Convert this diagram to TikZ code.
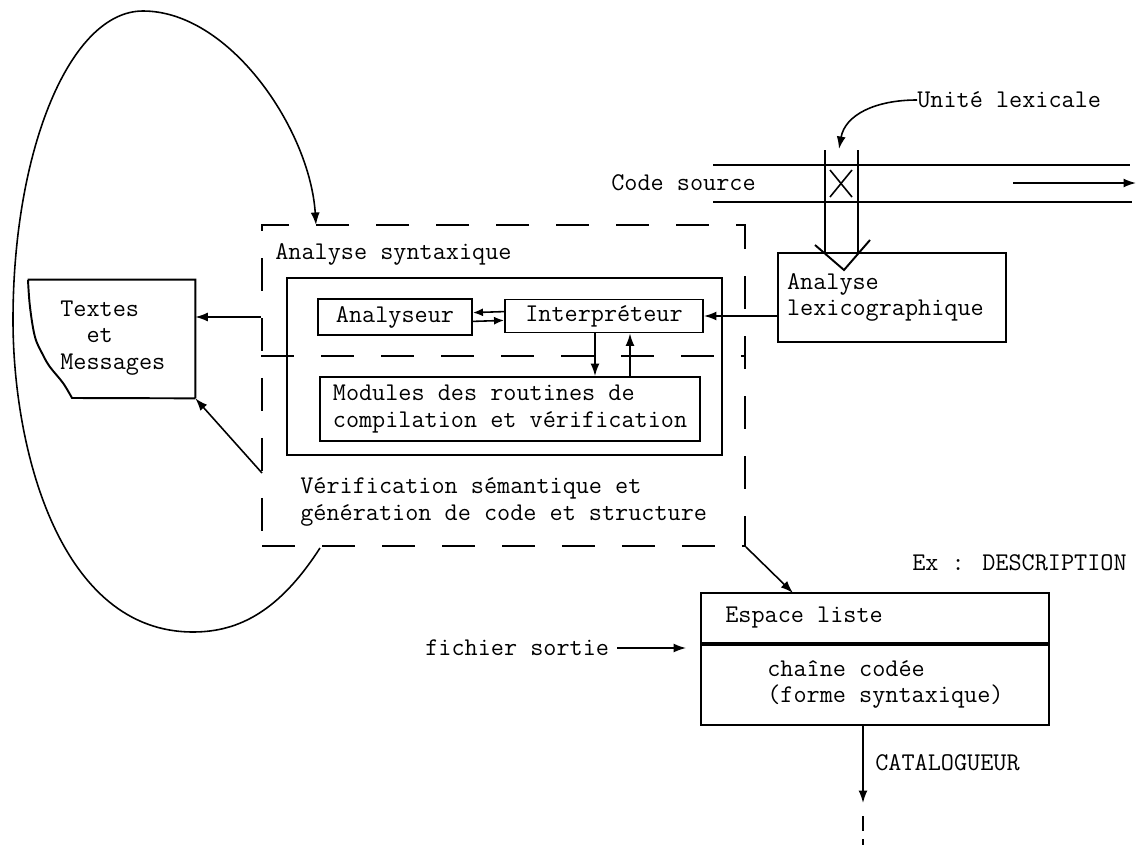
\documentclass[tikz,border=0pt]{standalone}
\usepackage{fontspec}
\usepackage{tikz}
\usetikzlibrary{arrows.meta,positioning,calc}

\tikzset{
  texte/.style={font=\ttfamily\fontsize{14.5}{15}\selectfont, inner sep=0pt},
  boite/.style={draw, line width=1.1pt, inner sep=0pt},
  pointille/.style={draw, line width=1.1pt, dash pattern=on 0.66cm off 0.54cm},
  fleche/.style={-{Latex[length=2.5mm,width=1.8mm]}, line width=0.9pt},
}

\begin{document}
\begin{tikzpicture}[x=0.02cm,y=-0.02cm]
\useasboundingbox (0,0) rectangle (1137,845);

% analyse syntaxique et verification semantique
\node[pointille, minimum width=9.66cm, minimum height=6.42cm] (semantique) at (503.5,385.5) {};
\draw[pointille] ([yshift=0.59cm]semantique.west) -- ([yshift=0.59cm]semantique.east);
\node[boite, minimum width=8.7cm, minimum height=3.54cm] (syntaxe) at (504.5,366.5) {};
\node[texte, anchor=west] (titresyn) at (275,254) {Analyse syntaxique};
\node[texte, anchor=west, align=left] (titresem) at (300,502) {V\'erification s\'emantique et\\g\'en\'eration de code et structure};

\node[boite, texte, minimum width=3.08cm, minimum height=0.72cm] (analyseur) at (395,317) {Analyseur};
\node[boite, texte, minimum width=3.96cm, minimum height=0.66cm] (interp) at (604,316) {Interpr\'eteur};
\node[boite, texte, align=left, minimum width=7.6cm, minimum height=1.28cm] (modules) at (510,409)
  {Modules des routines de\\compilation et v\'erification};

\draw[fleche, -{Latex[length=2mm,width=1.6mm]}] ([yshift=2.5pt]interp.west) -- ([yshift=2.5pt]analyseur.east);
\draw[fleche, -{Latex[length=2mm,width=1.6mm]}] ([yshift=-2.5pt]analyseur.east) -- ([yshift=-2.5pt]interp.west);
\draw[fleche] ([xshift=-0.18cm]interp.south) -- ([xshift=-0.18cm]interp.south |- modules.north);
\draw[fleche] ([xshift=0.52cm]interp.south |- modules.north) -- ([xshift=0.52cm]interp.south);

% textes et messages
\node[minimum width=3.34cm, minimum height=2.36cm, inner sep=0pt] (messages) at (111.5,339) {};
\draw[line width=1.1pt] (messages.south east) -- (messages.north east) -- (messages.north west)
  plot[smooth, tension=0.6] coordinates {(28,280) (30,307) (35,337) (43,355) (50,367) (63,383) (72,398)}
  -- (messages.south east);
\node[texte, anchor=west, align=left] (messtxt) at (60,338) {Textes\\\phantom{Te}et\\Messages};

\draw[fleche] (semantique.west |- 0,317) -- (messages.east |- 0,317);
\coordinate (verif) at (262,473);
\draw[fleche] (verif) -- (messages.south east);

% boucle
\coordinate (bouclea) at (320,548);
\coordinate (boucleb) at (316,225);
\draw[fleche] (bouclea) .. controls (280,610) and (240,632) .. (193,632)
  .. controls (60,632) and (13,450) .. (13,320)
  .. controls (13,150) and (70,11) .. (143,11)
  .. controls (230,11) and (310,130) .. (boucleb);

% analyse lexicographique
\node[boite, texte, align=left, text width=4.2cm, minimum width=4.56cm, minimum height=1.78cm, inner xsep=0.18cm]
  (lexico) at (892,297.5) {Analyse\\lexicographique};
\draw[fleche] (lexico.west |- interp.east) -- (interp.east);

% code source
\node[texte, anchor=west] (source) at (611,183) {Code source};
\draw[line width=1.1pt] (713,165) -- (1130,165);
\draw[line width=1.1pt] (713,202) -- (1132,202);
\draw[line width=1.1pt] (825,150) -- (825,253) (858,150) -- (858,253);
\draw[line width=1.1pt] (815,245) -- (844,270) -- (870,240);
\draw[line width=0.9pt] (830,170) -- (852,197) (830,197) -- (852,170);
\coordinate (fluxa) at (1013,183);
\coordinate (fluxb) at (1136,183);
\draw[fleche] (fluxa) -- (fluxb);

\node[texte, anchor=west] (unite) at (917,100) {Unit\'e lexicale};
\coordinate (unitept) at (839,149);
\draw[fleche] (unite.west) .. controls (875,100) and (845,115) .. (unitept);

% espace liste
\node[boite, minimum width=6.96cm, minimum height=1.0cm] (espace) at (875,618) {};
\node[boite, minimum width=6.96cm, minimum height=1.6cm, below=0pt of espace] (chaine) {};
\node[texte, anchor=west] (espacetxt) at (725,618) {Espace liste};
\node[texte, anchor=west, align=left] (chainetxt) at (767,684.5) {cha\^ine cod\'ee\\(forme syntaxique)};
\node[texte, anchor=west] (descr) at (912,563) {Ex : DESCRIPTION};

\coordinate (espin) at (793,593);
\draw[fleche] (semantique.south east) -- (espin);

\node[texte, anchor=west] (sortie) at (425,648) {fichier sortie};
\draw[fleche, shorten <=0.16cm, shorten >=0.28cm] (sortie.east) -- (sortie.east -| chaine.west);

\node[texte, anchor=west] (catal) at (875,763) {CATALOGUEUR};
\coordinate (catout) at (863,803);
\draw[fleche] (chaine.south -| catout) -- (catout);
\draw[line width=0.9pt, dash pattern=on 0.3cm off 0.16cm] (863,816) -- (863,845);
\end{tikzpicture}
\end{document}
